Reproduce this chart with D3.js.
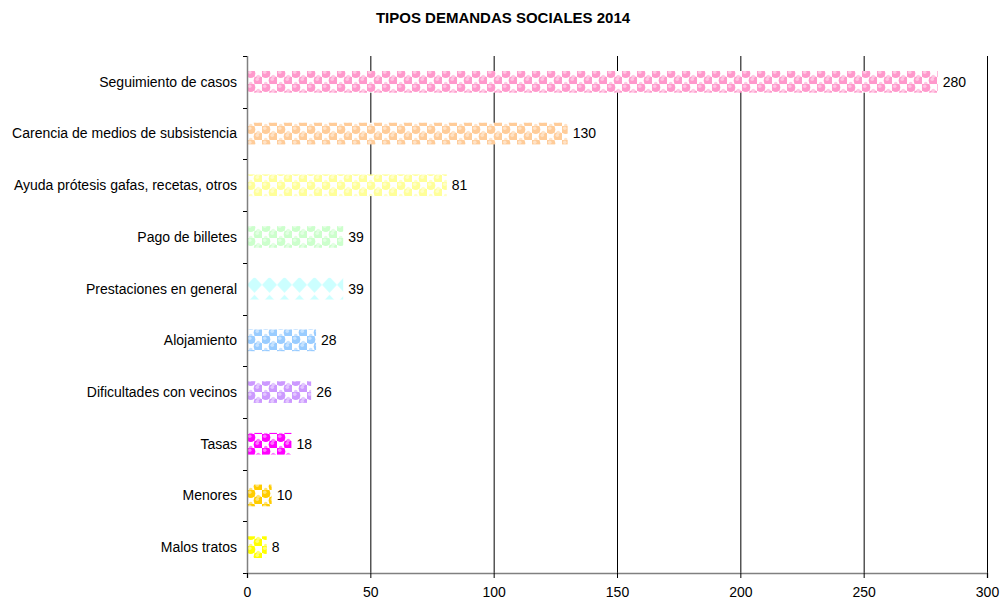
<!DOCTYPE html>
<html>
<head>
<meta charset="utf-8">
<script src="https://cdn.jsdelivr.net/npm/d3@7"></script>
<style>
  body { margin: 0; background: #fff; }
  text { font-family: "Liberation Sans", Arial, sans-serif; }
</style>
</head>
<body>
<svg id="chart" width="1002" height="605"></svg>
<script>
var categories = ["Seguimiento de casos", "Carencia de medios de subsistencia", "Ayuda prótesis gafas, recetas, otros",
  "Pago de billetes", "Prestaciones en general", "Alojamiento", "Dificultades con vecinos", "Tasas", "Menores", "Malos tratos"];
var values = [280, 130, 81, 39, 39, 28, 26, 18, 10, 8];
var colors = ["#ff99cc", "#ffcc99", "#ffff99", "#ccffcc", "#ccffff", "#99ccff", "#cc99ff", "#ff00ff", "#ffcc00", "#ffff00"];
var xTicks = [0, 50, 100, 150, 200, 250, 300];
var title = "TIPOS DEMANDAS SOCIALES 2014";

var svg = d3.select("#chart");
var margin = {left: 247, right: 15, top: 56, bottom: 32};

var x = d3.scaleLinear().domain([0, 300]).range([0, 740]);
var y = d3.scaleBand().domain(categories).range([0, 517]).paddingInner(0.58).paddingOuter(0.29);

var defs = svg.append("defs");
colors.forEach(function(c, i) {
  var p = defs.append("pattern")
    .attr("id", "pat" + i)
    .attr("patternUnits", "userSpaceOnUse")
    .attr("width", 15).attr("height", 14);
  var light = d3.interpolateRgb(c, "#ffffff")(0.45);
  if (i === 4) {
    // diamonds touching side to side
    p.attr("height", 18).attr("y", y(categories[i]) - 1);
    p.append("path").attr("d", "M7.5,0 L15,8 L7.5,16 L0,8 Z").attr("fill", c);
    return;
  }
  p.append("rect").attr("width", 15).attr("height", 14).attr("fill", "#fff");
  p.append("rect").attr("x", 0).attr("y", 0).attr("width", 7.5).attr("height", 7).attr("fill", c);
  p.append("rect").attr("x", 7.5).attr("y", 7).attr("width", 7.5).attr("height", 7).attr("fill", c);
  [[3.75, 3.5], [11.25, 10.5]].forEach(function(pt) {
    p.append("circle").attr("cx", pt[0]).attr("cy", pt[1]).attr("r", 4.6).attr("fill", c);
    p.append("circle").attr("cx", pt[0] - 1).attr("cy", pt[1] - 1.2).attr("r", 1.8).attr("fill", light);
  });
  [[11.25, 3.5], [3.75, 10.5]].forEach(function(pt) {
    p.append("circle").attr("cx", pt[0]).attr("cy", pt[1] + 3).attr("r", 1.8).attr("fill", light);
  });
});

svg.append("text")
  .attr("x", 503).attr("y", 23)
  .attr("text-anchor", "middle")
  .attr("font-size", 15).attr("font-weight", "bold")
  .text(title);

var g = svg.append("g").attr("transform", "translate(" + margin.left + "," + margin.top + ")");

// vertical gridlines
g.append("g").selectAll("line")
  .data(xTicks.slice(1))
  .enter().append("line")
  .attr("x1", function(d) { return x(d) + 0.5; })
  .attr("x2", function(d) { return x(d) + 0.5; })
  .attr("y1", 0).attr("y2", 517)
  .attr("stroke", "#000").attr("stroke-width", 1);

// bars
g.append("g").selectAll("rect")
  .data(values)
  .enter().append("rect")
  .attr("x", 0)
  .attr("y", function(d, i) { return y(categories[i]); })
  .attr("width", function(d) { return x(d); })
  .attr("height", y.bandwidth())
  .attr("fill", function(d, i) { return "url(#pat" + i + ")"; });

// value labels
g.append("g").selectAll("text")
  .data(values)
  .enter().append("text")
  .attr("x", function(d) { return x(d) + 5; })
  .attr("y", function(d, i) { return y(categories[i]) + y.bandwidth() / 2; })
  .attr("dy", "0.35em")
  .attr("font-size", 14)
  .text(function(d) { return d; });

// category labels
g.append("g").selectAll("text")
  .data(categories)
  .enter().append("text")
  .attr("x", -10)
  .attr("y", function(d) { return y(d) + y.bandwidth() / 2; })
  .attr("dy", "0.35em")
  .attr("text-anchor", "end")
  .attr("font-size", 14)
  .text(function(d) { return d; });

// left axis with ticks at band boundaries
var step = 517 / categories.length;
g.append("line")
  .attr("x1", 0.5).attr("x2", 0.5).attr("y1", 0).attr("y2", 517)
  .attr("stroke", "#808080").attr("stroke-width", 1.5);
g.append("g").selectAll("line")
  .data(d3.range(categories.length + 1))
  .enter().append("line")
  .attr("x1", -4).attr("x2", 0)
  .attr("y1", function(d) { return Math.round(d * step) + 0.5; })
  .attr("y2", function(d) { return Math.round(d * step) + 0.5; })
  .attr("stroke", "#000");

// bottom axis
var xAxis = d3.axisBottom(x).tickValues(xTicks).tickSize(5).tickPadding(9);
var ax = g.append("g").attr("transform", "translate(0,517)").call(xAxis);
ax.select(".domain").attr("stroke", "#808080").attr("stroke-width", 1.5);
ax.selectAll(".tick line").attr("stroke", "#000");
ax.selectAll("text").attr("font-size", 14).attr("fill", "#000")
  .attr("font-family", "'Liberation Sans', Arial, sans-serif");
</script>
</body>
</html>
